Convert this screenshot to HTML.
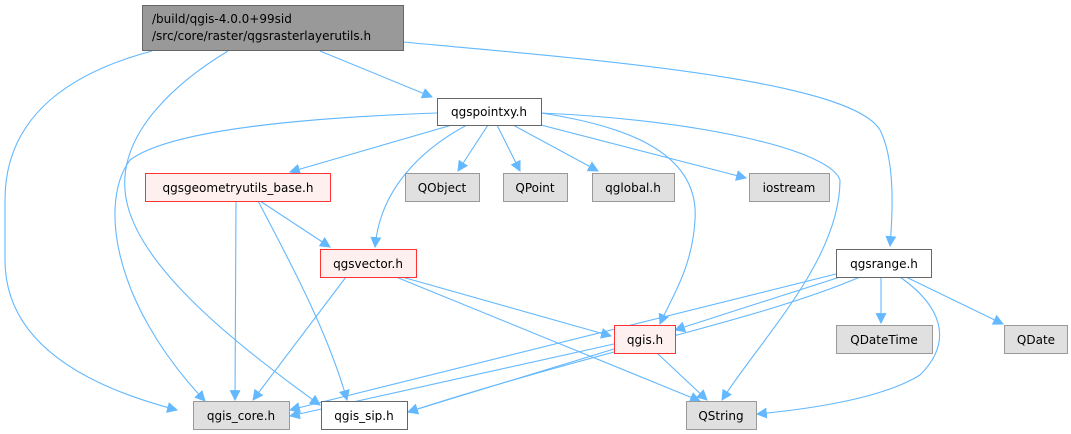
<!DOCTYPE html>
<html><head><meta charset="utf-8"><style>
html,body{margin:0;padding:0;background:#fff;}
svg{display:block;font-family:"DejaVu Sans","Liberation Sans",sans-serif;}
</style></head><body>
<svg width="1071" height="434" viewBox="0 0 1071 434" xmlns="http://www.w3.org/2000/svg">
<defs>
<marker id="a" viewBox="0 0 10 10" refX="9" refY="5" markerWidth="11" markerHeight="11" markerUnits="userSpaceOnUse" orient="auto">
<path d="M0,0 L10,5 L0,10 z" fill="#63b8ff"/>
</marker>
</defs>
<g fill="none" stroke="#63b8ff" stroke-width="1.1" marker-end="url(#a)">
<path d="M152,51 C80,70 5,110 5,200 L5,260 C5,350 100,390 177,410"/>
<path d="M228,51 C180,80 120,130 125,190 C130,260 230,340 320,405"/>
<path d="M320,51 L432,97"/>
<path d="M403,42 C600,60 850,80 880,130 C895,160 893,210 890,246"/>
<path d="M437,113 C300,118 170,130 130,160 C100,200 110,300 205,401"/>
<path d="M452,125 L290,172"/>
<path d="M488,125 L458,171"/>
<path d="M497,125 L520,171"/>
<path d="M513,125 L598,171"/>
<path d="M541,125 L746,178"/>
<path d="M467,125 C420,150 380,190 375,247"/>
<path d="M541,113 C620,125 700,150 695,220 C692,270 670,300 660,324"/>
<path d="M541,113 C700,120 830,150 840,180 C840,260 760,340 722,400"/>
<path d="M236,201 L235,400"/>
<path d="M258,201 C300,280 330,340 347,400"/>
<path d="M260,201 L330,247"/>
<path d="M346,277 L253,400"/>
<path d="M402,277 L611,336"/>
<path d="M396,277 L700,401"/>
<path d="M836,274 L290,410"/>
<path d="M840,277 L675,330"/>
<path d="M860,277 C760,320 600,350 408,412"/>
<path d="M881,277 L881,323"/>
<path d="M900,277 C940,305 955,340 920,375 C880,400 800,410 757,414"/>
<path d="M906,277 L1003,324"/>
<path d="M614,344 L290,416"/>
<path d="M614,349 L408,412"/>
<path d="M657,353 L707,400"/>
</g>
<g font-size="12" text-anchor="middle" fill="#000">
<rect x="142.5" y="5.5" width="261" height="45" fill="#999" stroke="#666"/>
<text x="152" y="23" text-anchor="start">/build/qgis-4.0.0+99sid</text>
<text x="152" y="40" text-anchor="start">/src/core/raster/qgsrasterlayerutils.h</text>
<rect x="437.5" y="98.5" width="104" height="27" fill="#fff" stroke="#666"/>
<text x="489" y="116">qgspointxy.h</text>
<rect x="145.5" y="173.5" width="185" height="28" fill="#fff0f0" stroke="#f33"/>
<text x="238" y="192">qgsgeometryutils_base.h</text>
<rect x="405.5" y="173.5" width="74" height="28" fill="#e0e0e0" stroke="#999"/>
<text x="442" y="192">QObject</text>
<rect x="503.5" y="173.5" width="64" height="28" fill="#e0e0e0" stroke="#999"/>
<text x="535" y="192">QPoint</text>
<rect x="592.5" y="173.5" width="82" height="28" fill="#e0e0e0" stroke="#999"/>
<text x="633" y="192">qglobal.h</text>
<rect x="749.5" y="173.5" width="80" height="28" fill="#e0e0e0" stroke="#999"/>
<text x="789" y="192">iostream</text>
<rect x="320.5" y="249.5" width="96" height="28" fill="#fff0f0" stroke="#f33"/>
<text x="368" y="268">qgsvector.h</text>
<rect x="836.5" y="249.5" width="95" height="28" fill="#fff" stroke="#666"/>
<text x="884" y="268">qgsrange.h</text>
<rect x="614.5" y="325.5" width="61" height="28" fill="#fff0f0" stroke="#f33"/>
<text x="645" y="344">qgis.h</text>
<rect x="836.5" y="325.5" width="96" height="28" fill="#e0e0e0" stroke="#999"/>
<text x="884" y="344">QDateTime</text>
<rect x="1004.5" y="325.5" width="63" height="28" fill="#e0e0e0" stroke="#999"/>
<text x="1036" y="344">QDate</text>
<rect x="193.5" y="401.5" width="96" height="28" fill="#e0e0e0" stroke="#999"/>
<text x="241" y="420">qgis_core.h</text>
<rect x="321.5" y="401.5" width="86" height="28" fill="#fff" stroke="#666"/>
<text x="364" y="420">qgis_sip.h</text>
<rect x="686.5" y="401.5" width="70" height="28" fill="#e0e0e0" stroke="#999"/>
<text x="721" y="420">QString</text>
</g>
</svg>
</body></html>
